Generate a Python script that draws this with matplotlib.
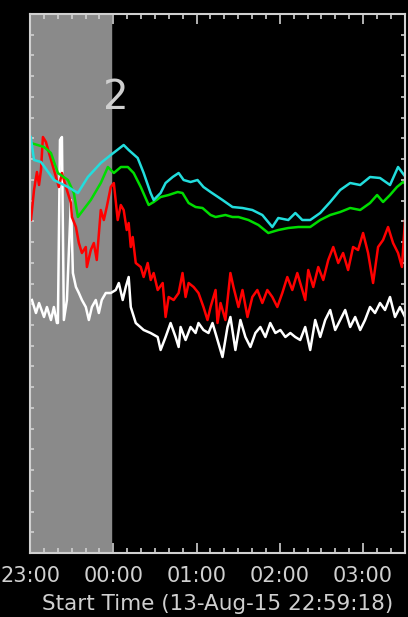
import matplotlib
matplotlib.use("Agg")
import matplotlib.pyplot as plt
from matplotlib.ticker import MultipleLocator, FixedLocator

# --- dados (tempo em minutos depois das 23:00, intensidade relativa) ---

tick_minutos = [0, 60, 120, 180, 240]
tick_rotulos = ["23:00", "00:00", "01:00", "02:00", "03:00"]
rotulo_x = "Start Time (13-Aug-15 22:59:18)"

faixa_inicio = 0.0
faixa_fim = 58.2
rotulo_faixa = "2"

ciano_t = [0.5, 2.9, 7.9, 17.2, 27.3, 34.5, 41.7, 51.0, 58.2, 67.5, 71.1, 77.6, 81.9,
           86.9, 89.1, 94.1, 97.7, 102.8, 107.1, 110.7, 115.7, 120.7, 125.0, 130.1,
           138.7, 145.9, 153.1, 160.2, 167.4, 174.6, 178.9, 186.1, 191.2, 196.2, 201.9,
           209.1, 216.3, 223.5, 230.7, 237.9, 245.0, 252.2, 259.4, 265.2, 269.5]
ciano_v = [416, 393, 391, 373, 366, 360, 376, 390, 398, 408, 403, 395, 380,
           360, 353, 360, 370, 376, 380, 373, 371, 373, 366, 361,
           353, 346, 345, 343, 338, 326, 335, 333, 340, 333, 333,
           340, 351, 363, 370, 368, 376, 375, 368, 386, 378]

verde_t = [0.7, 10.1, 15.1, 20.1, 27.3, 31.6, 34.5, 43.8, 51.0, 56.1, 60.4, 65.5, 70.5,
           74.7, 79.8, 85.5, 89.1, 94.1, 99.9, 106.4, 109.9, 114.3, 119.3, 124.3, 130.1,
           133.7, 140.8, 145.9, 150.2, 157.4, 164.6, 171.7, 178.9, 186.1, 193.3, 201.9,
           209.1, 216.3, 223.5, 230.7, 237.9, 245.0, 250.1, 254.4, 259.4, 264.4, 268.8, 271.6]
verde_v = [410, 406, 400, 380, 373, 360, 336, 353, 370, 386, 380, 386, 386,
           380, 366, 348, 351, 356, 358, 361, 360, 350, 346, 345, 338,
           336, 338, 336, 336, 333, 328, 320, 323, 325, 326, 326,
           333, 338, 341, 345, 343, 350, 358, 351, 358, 366, 371, 368]

vermelho_t = [0.7, 2.9, 5.0, 6.5, 7.9, 9.3, 11.5, 13.7, 15.8, 18.7,
              20.8, 23.0, 25.9, 29.5, 30.2, 33.1, 35.2, 37.4, 40.2, 41.0,
              43.8, 46.0, 48.1, 51.0, 53.2, 55.3, 58.2, 60.4, 63.2, 65.4,
              67.5, 69.7, 71.1, 72.6, 74.0, 76.2, 79.8, 81.9, 84.8, 87.0,
              89.1, 92.0, 95.6, 97.7, 99.9, 103.5, 107.1, 109.9, 112.1, 114.3,
              117.9, 121.4, 125.0, 127.9, 130.1, 133.7, 135.1, 137.3, 140.8, 144.4,
              146.6, 150.2, 153.1, 156.7, 160.2, 163.8, 167.4, 171.0, 174.6, 178.2,
              181.8, 185.4, 189.0, 192.6, 196.2, 198.3, 200.5, 204.1, 207.7, 211.3,
              214.9, 218.5, 222.1, 225.6, 229.2, 232.8, 236.4, 240.0, 243.6, 247.2,
              250.8, 254.4, 258.0, 261.6, 265.2, 268.0, 270.2]
vermelho_v = [333, 363, 381, 368, 383, 416, 411, 400, 390, 376,
              366, 380, 366, 350, 336, 326, 310, 300, 306, 286,
              303, 310, 293, 343, 333, 346, 366, 370, 333, 348,
              343, 323, 330, 306, 316, 290, 286, 276, 290, 273,
              280, 263, 270, 236, 256, 253, 260, 280, 256, 270,
              266, 260, 246, 233, 246, 263, 230, 250, 233, 280,
              266, 246, 263, 236, 256, 263, 250, 263, 256, 246,
              260, 276, 263, 280, 263, 253, 283, 266, 286, 273,
              293, 306, 290, 300, 283, 306, 303, 320, 300, 270,
              306, 313, 326, 310, 300, 286, 333]

branco_t = [1.4, 4.3, 6.5, 10.1, 12.2, 15.1, 17.2, 19.4, 20.1, 21.6,
            23.0, 24.4, 26.6, 29.5, 30.9, 33.1, 35.2, 37.4, 40.2, 42.4,
            44.6, 47.4, 49.6, 51.7, 54.6, 58.2, 61.8, 64.0, 66.8, 69.0,
            71.1, 72.6, 76.2, 81.9, 86.9, 92.0, 94.1, 97.7, 101.3, 104.9,
            107.1, 108.5, 112.1, 115.7, 119.3, 121.4, 125.0, 128.6, 131.5, 135.1,
            138.7, 142.3, 144.4, 148.0, 151.6, 155.2, 158.8, 162.4, 166.0, 169.6,
            173.1, 176.8, 180.4, 184.0, 187.6, 191.1, 194.7, 198.3, 201.9, 205.5,
            209.1, 212.7, 216.3, 219.9, 223.5, 227.1, 230.7, 234.3, 237.9, 241.4,
            245.0, 248.6, 252.2, 255.8, 259.4, 263.0, 266.6, 270.2]
branco_v = [253, 240, 250, 236, 246, 233, 246, 230, 230, 413,
            416, 233, 253, 353, 280, 266, 260, 253, 246, 233,
            246, 253, 240, 253, 260, 260, 263, 270, 253, 266,
            276, 246, 230, 223, 220, 216, 203, 216, 230, 216,
            206, 226, 213, 226, 220, 230, 223, 220, 230, 213,
            196, 226, 236, 203, 233, 216, 206, 220, 226, 216,
            230, 220, 223, 216, 220, 216, 213, 226, 203, 233,
            216, 233, 243, 223, 233, 243, 226, 236, 223, 233,
            246, 240, 250, 243, 256, 236, 246, 236]

# --- desenho ---

fig = plt.figure(figsize=(4.08, 6.17), dpi=100, facecolor="black")
ax = fig.add_axes([30 / 408, 64 / 617, 375 / 408, 539 / 617], facecolor="black")

ax.axvspan(faixa_inicio, faixa_fim, color="#8a8a8a", zorder=0)

ax.plot(branco_t, branco_v, color="white", lw=1.8)
ax.plot(vermelho_t, vermelho_v, color="#ff0000", lw=1.8)
ax.plot(verde_t, verde_v, color="#00dd00", lw=1.8)
ax.plot(ciano_t, ciano_v, color="#22dddd", lw=1.8)

ax.text(faixa_fim + 3.5, 455, rotulo_faixa, color="#cfcfcf", fontsize=29,
        ha="center", va="center")

ax.set_xlim(0.0, 270.2)
ax.set_ylim(0, 539)

ax.xaxis.set_major_locator(FixedLocator(tick_minutos))
ax.set_xticklabels(tick_rotulos)
ax.xaxis.set_minor_locator(MultipleLocator(10))
ax.yaxis.set_major_locator(MultipleLocator(539 / 26))
ax.set_yticklabels([])

cinza = "#d0d0d0"
ax.tick_params(axis="x", which="major", direction="in", length=7, width=1.2,
               top=True, colors=cinza, labelsize=15, pad=9)
ax.tick_params(axis="x", which="minor", direction="in", length=3.5, width=1.2,
               top=True, colors=cinza)
ax.tick_params(axis="y", which="major", direction="in", length=3, width=1.2,
               right=True, colors=cinza, labelleft=False)

for lado in ax.spines.values():
    lado.set_color(cinza)
    lado.set_linewidth(1.5)

ax.set_xlabel(rotulo_x, color=cinza, fontsize=15.5, labelpad=6)

fig.savefig("out.png", dpi=100, facecolor="black")
